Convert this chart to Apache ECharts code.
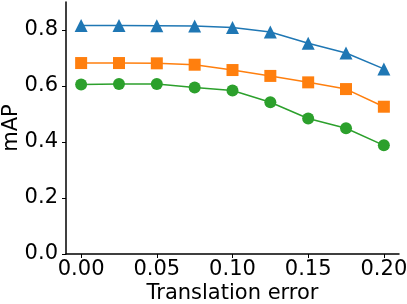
<!DOCTYPE html>
<html><head><meta charset="utf-8">
<script src="https://cdn.jsdelivr.net/npm/echarts@6/dist/echarts.min.js"></script>
<style>html,body{margin:0;padding:0;background:#fff}#c{width:407px;height:304px}</style>
</head><body><div id="c"></div>
<script>
const xValues = [0.000, 0.025, 0.050, 0.075, 0.100, 0.125, 0.150, 0.175, 0.200];
const blueTriangle = [0.816, 0.816, 0.815, 0.814, 0.809, 0.793, 0.753, 0.718, 0.661];
const orangeSquare = [0.682, 0.682, 0.681, 0.676, 0.657, 0.636, 0.613, 0.589, 0.526];
const greenCircle = [0.605, 0.607, 0.607, 0.595, 0.584, 0.542, 0.484, 0.449, 0.388];
const xTicks = [0.00, 0.05, 0.10, 0.15, 0.20];
const yTicks = [0.0, 0.2, 0.4, 0.6, 0.8];
const xLabel = 'Translation error';
const yLabel = 'mAP';

const font = 'DejaVu Sans';
const fs = 21;
const pair = arr => xValues.map((x, i) => [x, arr[i]]);
const chart = echarts.init(document.getElementById('c'));
const axisCommon = {
  axisLine: {show: true, onZero: false, lineStyle: {color: '#000', width: 1.5}},
  axisTick: {show: true, length: 4, inside: false, lineStyle: {color: '#000', width: 1}},
  splitLine: {show: false},
  nameMoveOverlap: false,
  nameTextStyle: {fontFamily: font, fontSize: fs, color: '#000'}
};
function mk(name, data, color, symbol, size) {
  return {name, type: 'line', data: pair(data), symbol, symbolSize: size,
    lineStyle: {color, width: 1.5}, itemStyle: {color}, showAllSymbol: true, animation: false, z: 3};
}
chart.setOption({
  animation: false,
  grid: {left: 66, right: 8, top: 2, bottom: 50, containLabel: false, outerBoundsMode: 'none'},
  xAxis: Object.assign({}, axisCommon, {
    type: 'value', min: -0.01, max: 0.21,
    name: xLabel, nameLocation: 'middle', nameGap: 29,
    axisTick: Object.assign({}, axisCommon.axisTick, {customValues: xTicks}),
    axisLabel: {customValues: xTicks, formatter: v => v.toFixed(2), fontFamily: font, fontSize: fs, color: '#000', margin: 5}
  }),
  yAxis: Object.assign({}, axisCommon, {
    type: 'value', min: 0, max: 0.9,
    name: yLabel, nameLocation: 'middle', nameGap: 44, nameRotate: 90,
    axisTick: Object.assign({}, axisCommon.axisTick, {customValues: yTicks}),
    axisLabel: {customValues: yTicks, formatter: v => v.toFixed(1), fontFamily: font, fontSize: fs, color: '#000', margin: 8}
  }),
  series: [
    mk('triangle', blueTriangle, '#1f77b4', 'triangle', 13),
    mk('square', orangeSquare, '#ff7f0e', 'rect', 12),
    mk('circle', greenCircle, '#2ca02c', 'circle', 12)
  ]
});
</script></body></html>
